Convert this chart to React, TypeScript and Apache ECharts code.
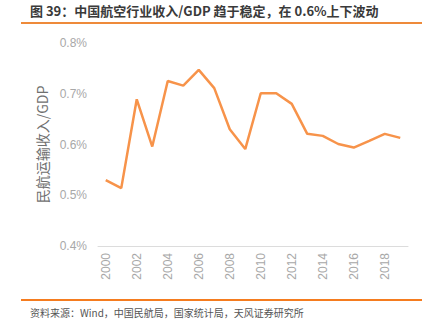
import React, { useEffect, useRef } from "react";
import * as echarts from "echarts";

const years = ["2000","2001","2002","2003","2004","2005","2006","2007","2008","2009","2010","2011","2012","2013","2014","2015","2016","2017","2018","2019"];
const ratio = [0.530,0.514,0.689,0.596,0.725,0.716,0.747,0.711,0.630,0.591,0.701,0.701,0.680,0.621,0.617,0.601,0.594,0.607,0.621,0.613];
const titleText = "图 39：中国航空行业收入/GDP 趋于稳定，在 0.6%上下波动";
const sourceText = "资料来源：Wind，中国民航局，国家统计局，天风证券研究所";
const yAxisName = "民航运输收入/GDP";

export default function App() {
  const ref = useRef<HTMLDivElement>(null);
  useEffect(() => {
    const chart = echarts.init(ref.current!, null, { renderer: "svg" });
    chart.setOption({
      animation: false,
      backgroundColor: "#fff",
      textStyle: { fontFamily: "'Noto Sans CJK SC', 'Noto Sans', sans-serif" },
      grid: { left: 98, right: 28, top: 43, bottom: 84, containLabel: false },
      xAxis: {
        type: "category",
        data: years,
        boundaryGap: true,
        axisLine: { lineStyle: { color: "#dcdcdc", width: 1 } },
        axisTick: { show: false },
        axisLabel: { rotate: 90, interval: 1, color: "#a8a8a8", fontSize: 12, margin: 7, fontFamily: "'Liberation Sans', Arial, sans-serif" },
        splitLine: { show: false },
      },
      yAxis: {
        type: "value",
        min: 0.4,
        max: 0.8,
        interval: 0.1,
        name: yAxisName,
        nameLocation: "middle",
        nameGap: 36,
        nameRotate: 90,
        nameTextStyle: { color: "#707070", fontSize: 14 },
        axisLine: { show: false },
        axisTick: { show: false },
        splitLine: { show: false },
        axisLabel: {
          color: "#a8a8a8",
          fontSize: 12,
          margin: 11,
          fontFamily: "'Liberation Sans', Arial, sans-serif",
          formatter: (v: number) => v.toFixed(1) + "%",
        },
      },
      series: [
        {
          type: "line",
          data: ratio,
          symbol: "none",
          lineStyle: { color: "#F7934A", width: 2.5 },
          itemStyle: { color: "#F7934A" },
        },
      ],
      graphic: [
        {
          type: "text",
          left: 30,
          top: 4,
          style: { text: titleText, fill: "#3a3a3a", fontSize: 13, fontWeight: "bold", fontFamily: "'Noto Sans CJK SC', sans-serif" },
        },
        {
          type: "line",
          shape: { x1: 21, y1: 23, x2: 422, y2: 23 },
          style: { stroke: "#EE8A3A", lineWidth: 2 },
        },
        {
          type: "line",
          shape: { x1: 21, y1: 300, x2: 422, y2: 300 },
          style: { stroke: "#F57C1F", lineWidth: 2 },
        },
        {
          type: "text",
          left: 30,
          top: 307,
          style: { text: sourceText, fill: "#555", fontSize: 10, fontFamily: "'Noto Sans CJK SC', sans-serif" },
        },
      ],
    });
    return () => chart.dispose();
  }, []);
  return <div ref={ref} style={{ position: "fixed", left: 0, top: 0, width: 436, height: 330 }} />;
}
